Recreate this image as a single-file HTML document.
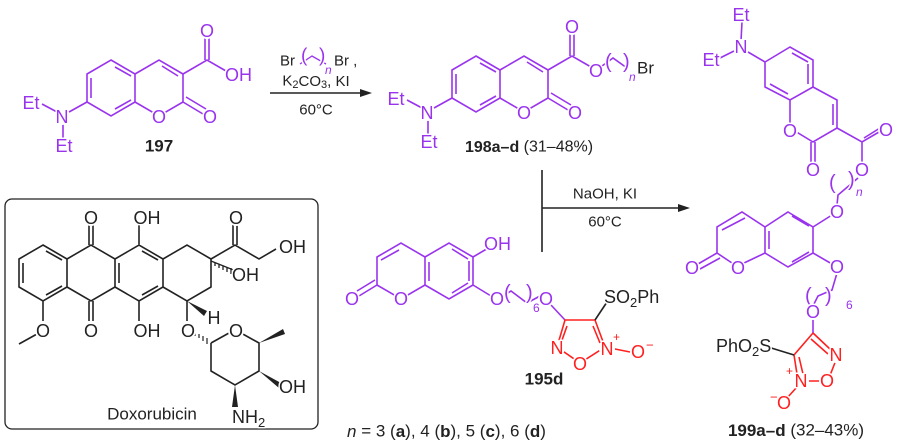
<!DOCTYPE html>
<html><head><meta charset="utf-8"><style>
html,body{margin:0;padding:0;background:#fff;}
svg{display:block;font-family:"Liberation Sans",sans-serif;}
.p{stroke:#9933ee;fill:none;stroke-width:1.6;}
.k{stroke:#222;fill:none;stroke-width:1.6;}
.r{stroke:#ff2020;fill:none;stroke-width:1.6;}
text{font-size:18px;dominant-baseline:central;}
.tp{fill:#9933ee;} .tk{fill:#222;} .tr{fill:#ff2020;}
.m{text-anchor:middle;}
.halo{fill:#fff;stroke:#fff;stroke-width:3px;stroke-linejoin:round;}
</style></head><body>
<svg id="s" width="900" height="448" viewBox="0 0 900 448">
<!-- 197 -->
<path class="p" d="M111 60 L135 74 L135 102 L111 116 L87 102 L87 74 Z M135 74 L159 60 L183 74 L183 102 L159 116 L135 102 M91 78 L91 98 M115 67 L131 76 M115 109 L131 100 M162 66 L178 76 M183 74 L207 60 L226 71 M205 60 L205 36 M209 60 L209 36 M183 102 L203 114 M186 97 L206 109 M87 102 L69 112 M57 112 L42 104 M63 122 L63 138"/>
<text class="tp m" x="207" y="31">O</text>
<text class="tp m" x="210" y="117">O</text>
<text class="tp m" x="159" y="117">O</text>
<text class="tp m" x="62" y="117">N</text>
<text class="tp m" x="31" y="103">Et</text>
<text class="tp m" x="64" y="146">Et</text>
<text class="tp" x="225" y="75">OH</text>
<text class="tk m" x="159" y="146" style="font-weight:bold;font-size:17px">197</text>

<!-- arrow 1 -->
<path class="k" d="M270 93 L362 93"/><path d="M372 93 L360 89 L360 97 Z" fill="#222"/>
<text class="tk" x="280" y="61" style="font-size:15px">Br</text>
<path class="p" d="M300 64 L312 56 L326 64" style="stroke-width:1.3"/>
<text class="tp" x="301" y="56" style="font-size:19px">(</text>
<text class="tp" x="319" y="56" style="font-size:19px">)</text>
<text class="tp" x="325" y="70" style="font-size:12px;font-style:italic">n</text>
<text class="tk" x="334" y="61" style="font-size:15px">Br ,</text>
<text class="tk m" x="316" y="81" style="font-size:15px">K<tspan dy="4" font-size="11">2</tspan><tspan dy="-4">CO</tspan><tspan dy="4" font-size="11">3</tspan><tspan dy="-4">, KI</tspan></text>
<text class="tk m" x="316" y="110" style="font-size:15px">60°C</text>

<!-- 198 -->
<g transform="translate(365,-4)">
<path class="p" d="M111 60 L135 74 L135 102 L111 116 L87 102 L87 74 Z M135 74 L159 60 L183 74 L183 102 L159 116 L135 102 M91 78 L91 98 M115 67 L131 76 M115 109 L131 100 M162 66 L178 76 M183 74 L207 60 L226 71 M205 60 L205 36 M209 60 L209 36 M183 102 L203 114 M186 97 L206 109 M87 102 L69 112 M57 112 L42 104 M63 122 L63 138 M237 70 L248 62 L262 72"/>
<text class="tp m" x="207" y="31">O</text>
<text class="tp m" x="210" y="117">O</text>
<text class="tp m" x="159" y="117">O</text>
<text class="tp m" x="62" y="117">N</text>
<text class="tp m" x="31" y="103">Et</text>
<text class="tp m" x="64" y="146">Et</text>
<text class="tp m" x="231" y="75">O</text>
<text class="tp" x="240" y="66" style="font-size:20px">(</text>
<text class="tp" x="258" y="66" style="font-size:20px">)</text>
<text class="tp" x="264" y="81" style="font-size:12px;font-style:italic">n</text>
<text class="tk" x="272" y="72" style="font-size:17px">Br</text>
</g>
<text class="tk m" x="529" y="147" style="font-size:16px"><tspan style="font-weight:bold">198a–d</tspan> (31–48%)</text>

<!-- Doxorubicin box -->
<rect x="5" y="199" width="313" height="230" rx="7" fill="none" stroke="#222" stroke-width="1.3"/>
<path class="k" d="M43 245 L67 259 L67 287 L43 301 L19 287 L19 259 Z M67 259 L91 245 L115 259 L115 287 L91 301 L67 287 M115 259 L139 245 L163 259 L163 287 L139 301 L115 287 M163 259 L187 245 L211 259 L211 287 L187 301 L163 287
M23 263 L23 283 M46 251 L62 260 M46 295 L62 286 M119 263 L119 283 M142 251 L158 260 M142 295 L158 286
M89 245 L89 225 M93 245 L93 225 M89 301 L89 321 M93 301 L93 321 M139 245 L139 225 M139 301 L139 321
M211 259 L235 245 L259 259 L276 249 M233 245 L233 225 M237 245 L237 225
M187 301 L187 321 M43 301 L43 321 M37 334 L19 344
M211 343 L229 333 M241 333 L259 343 L259 371 L235 385 L211 371 L211 343"/>
<path d="M211 261 L236 271 M215 263 L215 266 M219 264 L219 268 M223 266 L223 270 M227 267 L227 272 M231 268 L231 274" class="k" style="stroke-width:1.3"/>
<path d="M187 301 L207 311 L204 316 Z" fill="#222"/>
<path d="M259 343 L283 329 L285 334 Z" fill="#222"/>
<path d="M259 371 L281 383 L279 388 Z" fill="#222"/>
<path d="M235 385 L232 407 L238 407 Z" fill="#222"/>
<path class="k" style="stroke-width:1.2" d="M195 333 L195 336 M199 334 L199 338 M203 336 L203 341 M207 338 L207 344"/>
<text class="tk m" x="91" y="218">O</text>
<text class="tk m" x="91" y="331">O</text>
<text class="tk m" x="147" y="218">OH</text>
<text class="tk m" x="147" y="331">OH</text>
<text class="tk m" x="236" y="218">O</text>
<text class="tk" x="279" y="247">OH</text>
<text class="tk" x="232" y="275">OH</text>
<text class="tk m" x="214" y="318">H</text>
<text class="tk m" x="188" y="331">O</text>
<text class="tk m" x="236" y="331">O</text>
<text class="tk m" x="43" y="331">O</text>
<text class="tk" x="279" y="387">OH</text>
<text class="tk" x="232" y="417">NH<tspan dy="5" font-size="13">2</tspan></text>
<text class="tk m" x="152" y="414" style="font-size:17px">Doxorubicin</text>

<!-- 195d -->
<path class="p" d="M377 285 L377 257 L401 243 L425 257 L425 285 L401 299 L377 285 M425 257 L449 243 L473 257 L473 285 L449 299 L425 285 M381 260 L399 250 M429 262 L429 281 M452 249 L468 259 M452 293 L468 283 M469 261 L469 281 M377 285 L359 296 M375 280 L357 291 M473 257 L490 247 M473 285 L491 296 M503 296 L511 291 L527 303 L540 296 M551 305 L565 320"/>
<text class="tp" x="504" y="293" style="font-size:20px">(</text>
<text class="tp" x="526" y="293" style="font-size:20px">)</text>
<text class="tp" x="533" y="308" style="font-size:12px">6</text>
<text class="tp m" x="352" y="299">O</text>
<text class="tp m" x="401" y="299">O</text>
<text class="tp" x="484" y="244">OH</text>
<text class="tp m" x="497" y="299">O</text>
<text class="tp m" x="546" y="299">O</text>
<path class="r" d="M565 320 L595 320 L605 347 L580 363 L557 347 Z M567 326 L561 343 M593 326 L600 343 M605 347 L630 352"/>
<path class="k" d="M595 320 L607 302"/>
<text class="tk" x="604" y="297">SO<tspan dy="5" font-size="13">2</tspan><tspan dy="-5">Ph</tspan></text>
<text class="tr m" x="557" y="348">N</text>
<text class="tr m" x="580" y="364">O</text>
<text class="tr m" x="607" y="349">N</text>
<text class="tr" x="613" y="337" style="font-size:12px">+</text>
<text class="tr m" x="638" y="352">O</text>
<text class="tr" x="646" y="345" style="font-size:13px">−</text>
<text class="tk m" x="544" y="379" style="font-weight:bold;font-size:17px">195d</text>
<text class="tk" x="347" y="431" style="font-size:17px"><tspan style="font-style:italic">n</tspan> = 3 (<tspan style="font-weight:bold">a</tspan>), 4 (<tspan style="font-weight:bold">b</tspan>), 5 (<tspan style="font-weight:bold">c</tspan>), 6 (<tspan style="font-weight:bold">d</tspan>)</text>

<!-- arrow 2 -->
<path class="k" d="M542 170 L542 252 M542 208 L680 208"/><path d="M690 208 L678 204 L678 212 Z" fill="#222"/>
<text class="tk m" x="605" y="194" style="font-size:15px">NaOH, KI</text>
<text class="tk m" x="605" y="222" style="font-size:15px">60°C</text>

<!-- 199 -->
<path class="p" d="M765 62 L790 47 L813 60 L813 87 L790 100 L765 87 Z M813 87 L837 100 L837 128 L813 142 L790 128 L790 100 M770 84 L788 94 M792 53 L808 62 M808 64 L808 84 M833 104 L833 125 M811 142 L811 164 M815 142 L815 164
M837 128 L862 142 L879 132 M864 138 L880 128 M862 142 L862 164 M858 178 L838 195 L837 205
M765 62 L748 52 M741 41 L742 22 M734 51 L720 58
M832 215 L813 227 M788 212 L813 227 L813 253 L788 267 L765 253 L765 227 Z M765 227 L742 212 L717 227 L717 253 L732 263 M744 263 L765 253 M745 218 L722 230 M717 253 L698 264 M720 258 L700 269 M792 216 L809 226 M792 262 L809 252 M769 231 L769 249 M813 253 L832 264 M837 273 L832 290 L818 296 L813 306 M813 318 L813 333"/>
<text class="tp" x="829" y="183" style="font-size:20px">(</text>
<text class="tp" x="848" y="180" style="font-size:20px">)</text>
<text class="tp" x="856" y="192" style="font-size:12px;font-style:italic">n</text>
<text class="tp" x="805" y="296" style="font-size:20px">(</text>
<text class="tp" x="825" y="296" style="font-size:20px">)</text>
<text class="tp" x="846" y="305" style="font-size:12px">6</text>
<text class="tp m" x="741" y="15">Et</text>
<text class="tp m" x="741" y="47">N</text>
<text class="tp m" x="711" y="60">Et</text>
<text class="tp m" x="790" y="131">O</text>
<text class="tp m" x="813" y="170">O</text>
<text class="tp m" x="886" y="130">O</text>
<text class="tp m" x="862" y="170">O</text>
<text class="tp m" x="837" y="212">O</text>
<text class="tp m" x="692" y="268">O</text>
<text class="tp m" x="738" y="268">O</text>
<text class="tp m" x="837" y="267">O</text>
<text class="tp m" x="813" y="312">O</text>
<path class="r" d="M813 333 L831 350 M829 378 L836 360 M821 381 L806 381 M797 374 L794 355 L813 333 M811 339 L828 354 M799 357 L803 374 M797 387 L787 398"/>
<path class="k" d="M794 355 L768 347"/>
<text class="tk" x="716" y="346">PhO<tspan dy="5" font-size="13">2</tspan><tspan dy="-5">S</tspan></text>
<text class="tr m" x="836" y="355">N</text>
<text class="tr m" x="827" y="381">O</text>
<text class="tr m" x="801" y="381">N</text>
<text class="tr" x="786" y="371" style="font-size:12px">+</text>
<text class="tr m" x="784" y="403">O</text>
<text class="tr" x="770" y="397" style="font-size:13px">−</text>
<text class="tk m" x="796" y="430" style="font-size:17px"><tspan style="font-weight:bold">199a–d</tspan> (32–43%)</text>
</svg>
<script>
(function(){var s=document.getElementById('s');var ts=s.querySelectorAll('text');var NS='http://www.w3.org/2000/svg';
for(var i=0;i<ts.length;i++){var t=ts[i];var txt=t.textContent;
if(/\bm\b/.test(t.getAttribute('class')||'')&&txt.length===1&&/[ONH]/.test(txt)){var c0=document.createElementNS(NS,'circle');c0.setAttribute('cx',t.getAttribute('x'));c0.setAttribute('cy',t.getAttribute('y'));c0.setAttribute('r','8');c0.setAttribute('fill','#fff');t.parentNode.insertBefore(c0,t);}
var c=t.cloneNode(true);c.setAttribute('class',(t.getAttribute('class')||'')+' halo');c.setAttribute('aria-hidden','true');t.parentNode.insertBefore(c,t);}})();
</script>
</body></html>
